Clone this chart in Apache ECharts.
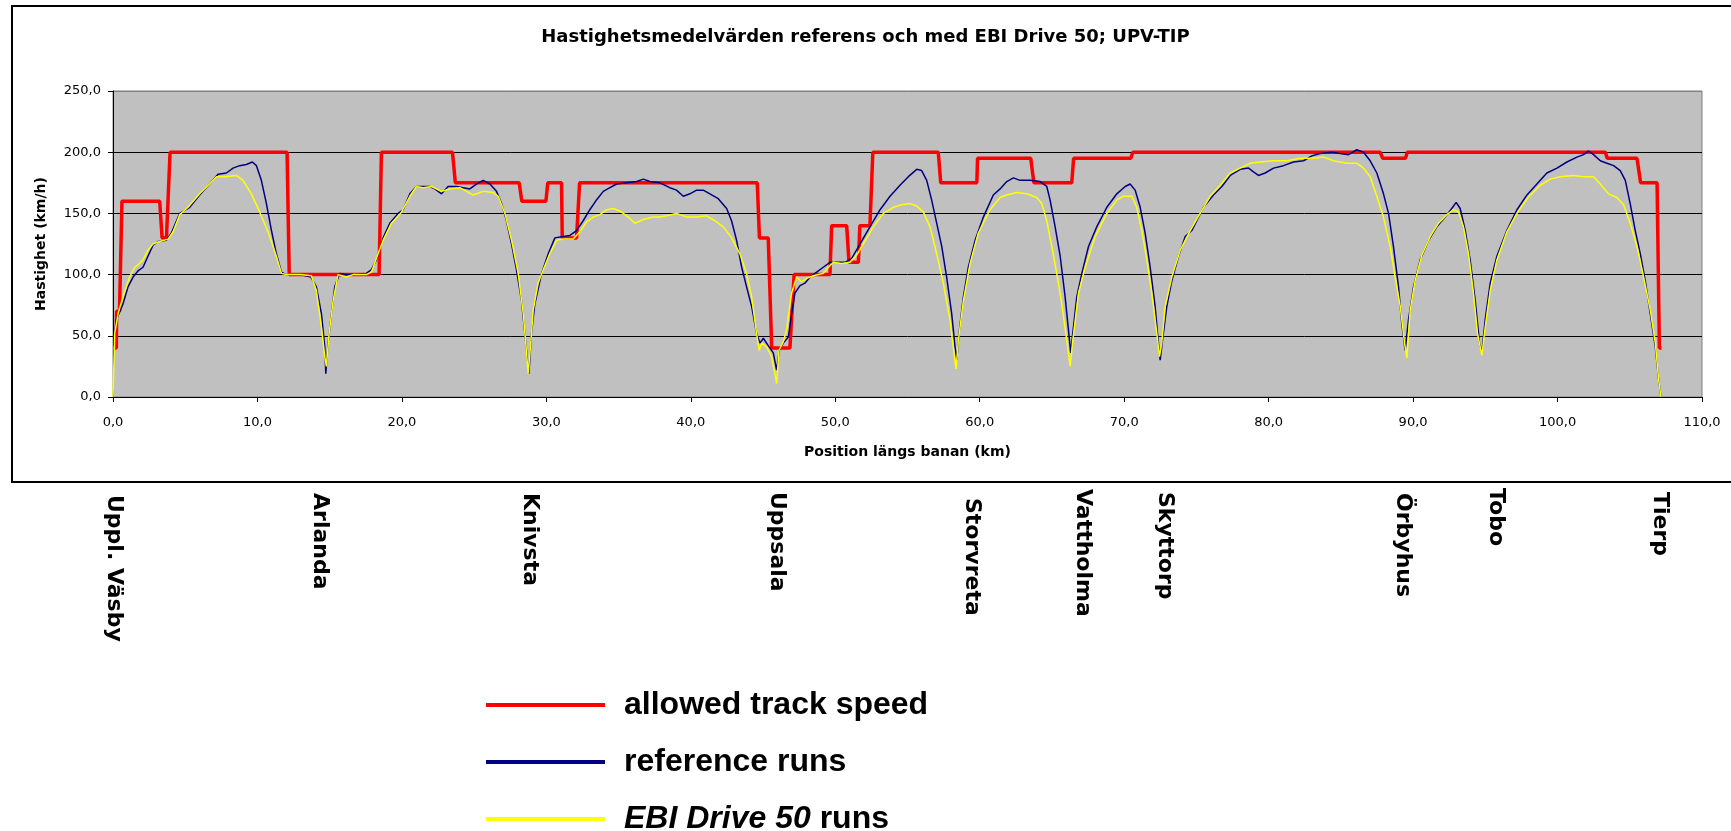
<!DOCTYPE html>
<html>
<head>
<meta charset="utf-8">
<title>Hastighetsmedelvärden UPV-TIP</title>
<script src="https://cdn.jsdelivr.net/npm/echarts@6/dist/echarts.min.js"></script>
<style>
html, body { margin: 0; padding: 0; background: #fff; }
#speedChart { width: 1731px; height: 831px; }
</style>
</head>
<body>
<div id="speedChart"></div>
<script>
/*
 * Hastighetsmedelvärden referens och med EBI Drive 50; UPV-TIP
 */

// [km, km/h] - allowed track speed (step profile)
var allowedSpeed = [[0,40],[0.23,40],[0.25,70],[0.45,70],[0.62,160],[3.23,160],[3.4,130],[3.7,130],[3.95,200],
    [12.05,200],[12.2,100],[18.42,100],[18.58,200],[23.5,200],[23.7,175],[28.12,175],[28.3,160],[29.97,160],
    [30.1,175],[31.05,175],[31.1,130],[32.09,130],[32.3,175],[44.6,175],[44.75,130],[45.36,130],[45.6,40],
    [46.86,40],[47.15,100],[49.63,100],[49.75,140],[50.79,140],[50.95,110],[51.6,110],[51.7,140],[52.4,140],
    [52.6,200],[57.13,200],[57.3,175],[59.8,175],[59.85,195],[63.53,195],[63.75,175],[66.37,175],[66.5,195],
    [70.46,195],[70.6,200],[87.72,200],[87.9,195],[89.47,195],[89.6,200],[103.3,200],[103.45,195],[105.5,195],
    [105.75,175],[106.89,175],[107.05,40],[107.2,40]];

// [km, km/h] - reference runs
var referenceRuns = [[0.05,45],[0.23,63],[0.69,76],[1.04,90],[1.39,98],[1.73,103],[2.08,106],[2.42,115],[2.77,124],
    [3.12,127],[3.69,128],[4.04,134],[4.62,150],[5.31,155],[6.0,165],[6.69,174],[7.27,182],[7.85,183],[8.31,187],
    [8.77,189],[9.23,190],[9.65,192],[9.93,189],[10.27,177],[10.62,158],[10.97,136],[11.31,117],[11.66,102],
    [12.0,100],[12.93,100],[13.7,98],[14.08,90],[14.43,68],[14.66,41],[14.73,19],[14.89,44],[15.12,68],[15.35,90],
    [15.7,101],[16.16,100],[16.62,100],[17.54,101],[17.89,104],[18.24,112],[18.7,130],[19.16,142],[19.74,150],
    [20.09,153],[20.55,166],[21.01,172],[21.47,172],[21.93,172],[22.28,170],[22.74,166],[23.2,172],[23.78,172],
    [24.24,171],[24.7,170],[25.16,174],[25.63,177],[26.09,174],[26.55,168],[26.9,158],[27.24,144],[27.59,125],
    [27.93,104],[28.28,79],[28.51,52],[28.67,33],[28.79,19],[28.97,52],[29.2,76],[29.67,101],[30.13,117],
    [30.59,130],[31.05,131],[31.63,132],[32.09,136],[32.55,144],[33.01,153],[33.47,161],[33.94,168],[34.4,171],
    [34.86,174],[35.55,175],[36.25,176],[36.71,178],[37.17,176],[37.86,175],[38.55,171],[39.01,169],[39.48,164],
    [39.94,166],[40.4,169],[40.86,169],[41.32,166],[41.9,162],[42.48,154],[42.82,144],[43.17,128],[43.52,106],
    [43.86,90],[44.21,74],[44.55,52],[44.79,44],[45.02,48],[45.36,42],[45.71,36],[45.94,22],[46.12,38],[46.4,44],
    [46.75,49],[46.98,68],[47.21,85],[47.56,91],[47.9,93],[48.25,98],[48.71,102],[49.17,106],[49.63,110],
    [50.1,110],[50.67,110],[51.13,113],[51.71,125],[52.4,139],[53.1,153],[53.79,164],[54.48,173],[55.06,180],
    [55.64,186],[55.98,185],[56.33,177],[56.67,161],[57.02,142],[57.37,123],[57.71,98],[58.06,68],[58.29,41],
    [58.41,30],[58.57,52],[58.87,82],[59.21,106],[59.68,128],[60.25,147],[60.94,165],[61.41,170],[61.87,176],
    [62.33,179],[62.79,177],[63.49,177],[64.18,176],[64.64,172],[64.87,161],[65.22,139],[65.57,115],[65.91,82],
    [66.14,55],[66.3,36],[66.44,52],[66.72,82],[67.07,101],[67.53,123],[68.1,139],[68.8,155],[69.49,166],
    [70.07,172],[70.41,174],[70.76,169],[71.11,155],[71.45,134],[71.8,106],[72.14,74],[72.37,44],[72.49,30],
    [72.65,46],[72.95,74],[73.3,95],[73.76,115],[74.22,131],[74.68,136],[75.03,144],[75.49,155],[76.18,165],
    [76.76,172],[77.34,181],[78.03,186],[78.61,187],[78.95,184],[79.3,181],[79.76,183],[80.34,187],[81.03,189],
    [81.72,192],[82.42,193],[82.99,197],[83.57,199],[84.38,200],[84.95,199],[85.53,198],[86.1,202],[86.57,200],
    [87.03,193],[87.49,183],[87.95,166],[88.3,150],[88.64,123],[88.99,90],[89.22,60],[89.45,38],[89.68,63],
    [90.03,90],[90.49,112],[91.07,128],[91.64,139],[92.22,147],[92.68,154],[92.98,159],[93.26,154],[93.61,136],
    [93.95,112],[94.3,79],[94.6,44],[94.76,36],[94.99,63],[95.34,93],[95.8,115],[96.49,136],[97.19,153],
    [97.88,165],[98.57,174],[99.26,183],[99.96,187],[100.65,192],[101.34,196],[101.8,198],[102.15,201],
    [102.49,198],[102.96,193],[103.42,191],[103.88,189],[104.34,185],[104.69,177],[105.03,158],[105.38,136],
    [105.73,117],[106.07,95],[106.42,68],[106.77,41],[107.0,14],[107.16,0]];

// [km, km/h] - EBI Drive 50 runs
var ebiRuns = [[0,0],[0.12,52],[0.35,68],[0.69,82],[1.15,98],[1.5,106],[1.73,108],[2.08,112],[2.42,120],[2.77,125],
    [3.23,127],[3.81,129],[4.16,135],[4.62,149],[5.19,155],[6.0,166],[6.69,174],[7.16,180],[7.73,180],[8.54,181],
    [9.0,177],[9.58,166],[10.16,151],[10.73,135],[11.31,115],[11.66,101],[12.0,100],[12.93,100],[13.73,99],
    [14.08,87],[14.43,57],[14.66,33],[14.77,25],[14.96,52],[15.24,79],[15.58,100],[16.16,98],[16.62,100],
    [17.54,100],[17.89,102],[18.35,117],[18.7,128],[19.28,142],[19.97,151],[20.55,164],[21.01,172],[21.47,171],
    [22.05,172],[22.74,168],[23.32,170],[24.01,171],[24.47,168],[24.93,165],[25.63,168],[26.32,167],[26.67,164],
    [27.13,150],[27.59,128],[28.05,101],[28.4,68],[28.63,36],[28.74,19],[28.9,41],[29.09,71],[29.43,93],
    [29.78,104],[30.24,117],[30.7,128],[31.17,129],[31.86,129],[32.32,135],[32.78,143],[33.24,147],[33.71,149],
    [34.17,153],[34.63,154],[35.09,152],[35.67,147],[36.13,142],[36.71,145],[37.4,147],[37.86,147],[38.32,148],
    [39.01,150],[39.71,147],[40.4,147],[41.09,148],[41.67,144],[42.25,139],[42.82,130],[43.4,117],[43.86,101],
    [44.21,82],[44.55,52],[44.74,38],[44.9,44],[45.25,41],[45.59,33],[45.82,19],[45.94,11],[46.1,38],[46.4,45],
    [46.63,55],[46.98,85],[47.33,98],[47.67,94],[48.02,97],[48.48,99],[49.17,101],[49.52,106],[49.86,110],
    [50.44,109],[51.02,110],[51.48,116],[51.94,125],[52.63,139],[53.33,150],[54.02,155],[54.6,157],[55.17,158],
    [55.64,156],[56.1,151],[56.56,139],[57.02,117],[57.48,93],[57.94,63],[58.22,36],[58.36,23],[58.52,46],
    [58.87,79],[59.33,109],[59.9,134],[60.71,153],[61.41,163],[61.87,165],[62.56,167],[63.26,166],[63.95,163],
    [64.3,158],[64.64,144],[64.99,123],[65.33,101],[65.68,76],[66.03,46],[66.26,25],[66.44,46],[66.84,85],
    [67.3,106],[67.99,131],[68.8,150],[69.49,161],[69.95,164],[70.53,164],[70.87,155],[71.22,136],[71.57,112],
    [71.91,85],[72.26,52],[72.44,33],[72.6,44],[72.84,74],[73.3,98],[73.88,120],[74.57,136],[75.26,150],
    [75.95,164],[76.65,173],[77.34,183],[78.03,187],[78.72,191],[79.41,192],[80.34,193],[81.26,193],[82.19,195],
    [83.11,195],[83.8,196],[84.5,193],[84.95,192],[85.41,191],[86.1,191],[86.57,187],[87.03,180],[87.49,164],
    [87.95,147],[88.41,123],[88.76,98],[89.11,74],[89.41,44],[89.57,32],[89.8,71],[90.14,95],[90.61,116],
    [91.18,131],[91.76,142],[92.34,149],[92.8,153],[93.15,151],[93.49,139],[93.84,117],[94.18,85],[94.46,52],
    [94.76,34],[94.99,57],[95.34,87],[95.8,112],[96.49,135],[97.19,150],[97.88,162],[98.8,173],[99.5,178],
    [100.19,180],[101.11,181],[101.8,180],[102.49,180],[102.96,174],[103.53,166],[104.11,163],[104.57,157],
    [105.03,142],[105.5,123],[105.96,98],[106.42,71],[106.77,44],[107.0,14],[107.16,0]];

var stationNames = ['Uppl. Väsby', 'Arlanda', 'Knivsta', 'Uppsala', 'Storvreta', 'Vattholma', 'Skyttorp', 'Örbyhus', 'Tobo', 'Tierp'];

var legendName = ['allowed track speed', 'reference runs', 'EBI Drive 50 runs'];
var colors = ['#FF0000', '#000080', '#FFFF00'];

var myChart = echarts.init(document.getElementById('speedChart'));

// placering av stationsnamnen under diagramramen (px)
var stationX = [114, 320, 530, 777, 972, 1083, 1165, 1403, 1496, 1660];
var stationTop = [495, 493, 493, 492, 498, 489, 492, 493, 488, 492];

//tal med decimalkomma
function fmt(v){
    return v.toFixed(1).replace('.', ',');
}

function stationLabels(){
    var items = [];
    for(var i=0; i<stationNames.length; i++){
        items.push({
            type: 'text',
            x: stationX[i],
            y: stationTop[i],
            rotation: -Math.PI / 2,
            style: {
                text: stationNames[i],
                fill: '#000',
                fontFamily: 'DejaVu Sans',
                fontWeight: 'bold',
                fontSize: 22,
                align: 'left',
                verticalAlign: 'middle'
            }
        });
    }
    return items;
}

var graphics = [{
    type: 'rect',
    shape: { x: 12, y: 6, width: 1740, height: 476 },
    style: { fill: 'none', stroke: '#000', lineWidth: 2 },
    silent: true
}].concat(stationLabels());

option = {
    animation: false,
    backgroundColor: '#fff',
    title: {
        left: 'center',
        top: 23,
        text: 'Hastighetsmedelvärden referens och med EBI Drive 50; UPV-TIP',
        textStyle: {
            fontFamily: 'DejaVu Sans',
            fontWeight: 'bold',
            fontSize: 18,
            color: '#000'
        }
    },
    grid: {
        left: 113,
        right: 29,
        top: 91,
        bottom: 434,
        containLabel: false,
        outerBoundsMode: 'none',
        show: true,
        backgroundColor: '#C0C0C0',
        borderColor: '#808080',
        borderWidth: 1
    },
    legend: {
        orient: 'vertical',
        left: 486,
        top: 689,
        height: 170,
        padding: 0,
        itemWidth: 119,
        itemHeight: 4,
        itemGap: 25,
        icon: 'rect',
        data: legendName,
        itemStyle: { borderWidth: 0 },
        formatter: function(name){
            if (name === legendName[2]) {
                return '{i|EBI Drive 50} runs';
            }
            return name;
        },
        textStyle: {
            fontFamily: 'Liberation Sans',
            fontWeight: 'bold',
            fontSize: 32,
            lineHeight: 32,
            color: '#000',
            padding: [0, 0, 0, 14],
            rich: {
                i: {
                    fontFamily: 'Liberation Sans',
                    fontWeight: 'bold',
                    fontStyle: 'italic',
                    fontSize: 32,
                    lineHeight: 32,
                    color: '#000'
                }
            }
        }
    },
    xAxis: {
        type: 'value',
        min: 0,
        max: 110,
        interval: 10,
        name: 'Position längs banan (km)',
        nameLocation: 'middle',
        nameGap: 48,
        nameTextStyle: {
            fontFamily: 'DejaVu Sans',
            fontWeight: 'bold',
            fontSize: 14,
            color: '#000'
        },
        axisLine: { show: true, onZero: false, lineStyle: { color: '#000', width: 1 } },
        axisTick: { show: true, inside: false, length: 5, lineStyle: { color: '#000' } },
        axisLabel: {
            margin: 19,
            fontFamily: 'DejaVu Sans',
            fontSize: 13,
            color: '#000',
            formatter: fmt
        },
        splitLine: { show: false }
    },
    yAxis: {
        type: 'value',
        min: 0,
        max: 250,
        interval: 50,
        name: 'Hastighet (km/h)',
        nameLocation: 'middle',
        nameGap: 65,
        nameTextStyle: {
            fontFamily: 'DejaVu Sans',
            fontWeight: 'bold',
            fontSize: 14,
            color: '#000'
        },
        axisLine: { show: true, lineStyle: { color: '#000', width: 1 } },
        axisTick: { show: true, inside: false, length: 5, lineStyle: { color: '#000' } },
        axisLabel: {
            margin: 12,
            fontFamily: 'DejaVu Sans',
            fontSize: 13,
            color: '#000',
            formatter: fmt
        },
        splitLine: {
            show: true,
            lineStyle: {
                color: ['#000', '#000', '#000', '#000', '#000', '#808080'],
                width: 1
            }
        }
    },
    graphic: graphics,
    series: [
        {
            name: legendName[0],
            type: 'line',
            showSymbol: false,
            symbol: 'none',
            itemStyle: { color: colors[0] },
            lineStyle: { color: colors[0], width: 3.5 },
            data: allowedSpeed
        },
        {
            name: legendName[1],
            type: 'line',
            showSymbol: false,
            symbol: 'none',
            itemStyle: { color: colors[1] },
            lineStyle: { color: colors[1], width: 1.5 },
            data: referenceRuns
        },
        {
            name: legendName[2],
            type: 'line',
            showSymbol: false,
            symbol: 'none',
            itemStyle: { color: colors[2] },
            lineStyle: { color: colors[2], width: 1.5 },
            data: ebiRuns
        }
    ]
};

myChart.setOption(option);
</script>
</body>
</html>
